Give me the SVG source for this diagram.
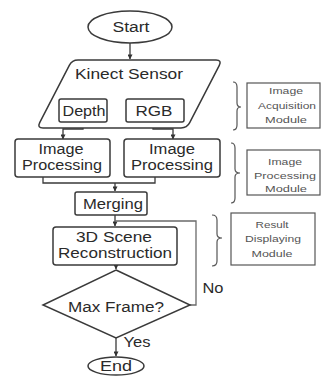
<svg xmlns="http://www.w3.org/2000/svg" width="321" height="376" viewBox="0 0 321 376">
<defs>
<marker id="arr" viewBox="0 0 6 6" refX="5.5" refY="3" markerWidth="5" markerHeight="5" orient="auto" markerUnits="userSpaceOnUse">
<path d="M0,0 L6,3 L0,6 Z" fill="#333"/>
</marker>
<style>
.sh{fill:#fff;stroke:#3a3a3a;stroke-width:1.5}
.ln{fill:none;stroke:#3a3a3a;stroke-width:1.3}
.lg{fill:none;stroke:#6a6a6a;stroke-width:1.3}
.t{font-family:"Liberation Sans",Arial,sans-serif;font-size:14px;fill:#2a2a2a;text-anchor:middle}
.s{font-family:"Liberation Sans",Arial,sans-serif;font-size:9.5px;fill:#555;text-anchor:middle}
.br{fill:none;stroke:#555;stroke-width:1.2}
</style>
</defs>
<rect width="321" height="376" fill="#fff"/>
<g id="connectors">
<path class="ln" d="M130,43 L130,59" marker-end="url(#arr)"/>
<path class="ln" d="M83,122 L83,129 L63,129 L63,139" marker-end="url(#arr)"/>
<path class="ln" d="M153,122 L153,129 L173,129 L173,139" marker-end="url(#arr)"/>
<path class="ln" d="M43,177 L43,183 L155,183 L155,177 M115,183 L115,191" marker-end="url(#arr)"/>
<path class="ln" d="M115,215 L115,226" marker-end="url(#arr)"/>
<path class="lg" d="M190,305 L196,305 L196,221 L115,221"/>
<path class="ln" d="M116,265 L116,269" marker-end="url(#arr)"/>
<path class="ln" d="M116,338 L116,356" marker-end="url(#arr)"/>
</g>
<g id="start"><ellipse class="sh" cx="130" cy="27" rx="42" ry="16"/><text class="t" x="131" y="32" textLength="37" lengthAdjust="spacingAndGlyphs">Start</text></g>
<g id="kinect"><path class="sh" d="M78,60 L216,60 Q222,60 219.3,65.3 L189.7,122.7 Q187,128 181,128 L43,128 Q37,128 39.7,122.7 L69.3,65.3 Q72,60 78,60 Z"/><text class="t" x="129" y="79" textLength="108" lengthAdjust="spacingAndGlyphs">Kinect Sensor</text></g>
<g id="depth"><rect class="sh" x="59" y="99" width="48" height="23" rx="2"/><text class="t" x="84" y="116" textLength="43" lengthAdjust="spacingAndGlyphs">Depth</text></g>
<g id="rgb"><rect class="sh" x="126" y="99" width="58" height="23" rx="2"/><text class="t" x="154" y="116" textLength="37" lengthAdjust="spacingAndGlyphs">RGB</text></g>
<g id="imgproc1"><rect class="sh" x="15" y="139" width="95" height="38" rx="3"/><text class="t" x="61" y="154" textLength="45" lengthAdjust="spacingAndGlyphs">Image</text><text class="t" x="62" y="170" textLength="80" lengthAdjust="spacingAndGlyphs">Processing</text></g>
<g id="imgproc2"><rect class="sh" x="124" y="139" width="96" height="38" rx="3"/><text class="t" x="172" y="154" textLength="46" lengthAdjust="spacingAndGlyphs">Image</text><text class="t" x="172" y="170" textLength="82" lengthAdjust="spacingAndGlyphs">Processing</text></g>
<g id="merging"><rect class="sh" x="75" y="192" width="72" height="23" rx="2"/><text class="t" x="113" y="209" textLength="60" lengthAdjust="spacingAndGlyphs">Merging</text></g>
<g id="recon"><rect class="sh" x="53" y="227" width="124" height="38" rx="3"/><text class="t" x="114" y="242" textLength="76" lengthAdjust="spacingAndGlyphs">3D Scene</text><text class="t" x="115" y="258" textLength="114" lengthAdjust="spacingAndGlyphs">Reconstruction</text></g>
<g id="maxframe"><path class="sh" d="M116,270 L190,305 L116,338 L43,305 Z"/><text class="t" x="116" y="312" textLength="96" lengthAdjust="spacingAndGlyphs">Max Frame?</text></g>
<g id="end"><ellipse class="sh" cx="116" cy="366" rx="28" ry="9"/><text class="t" x="116" y="371" textLength="32" lengthAdjust="spacingAndGlyphs">End</text></g>
<text class="t" x="213" y="293" textLength="21" lengthAdjust="spacingAndGlyphs">No</text>
<text class="t" x="137" y="347" textLength="27" lengthAdjust="spacingAndGlyphs">Yes</text>
<g id="mod1"><path class="br" d="M233,82 Q237,82 237,87 L237,103 Q237,107 241,107 Q237,107 237,111 L237,125 Q237,130 233,130"/><rect x="247" y="83" width="73" height="45" fill="#fff" stroke="#555" stroke-width="1.2"/><text class="s" x="286" y="94" textLength="34" lengthAdjust="spacingAndGlyphs">Image</text><text class="s" x="287" y="109" textLength="58" lengthAdjust="spacingAndGlyphs">Acquisition</text><text class="s" x="286" y="123" textLength="42" lengthAdjust="spacingAndGlyphs">Module</text></g>
<g id="mod2"><path class="br" d="M231,143 Q235,143 235,148 L235,169 Q235,173 240,173 Q235,173 235,177 L235,198 Q235,203 231,203"/><rect x="247" y="150" width="73" height="45" fill="#fff" stroke="#555" stroke-width="1.2"/><text class="s" x="285" y="165" textLength="34" lengthAdjust="spacingAndGlyphs">Image</text><text class="s" x="285" y="179" textLength="62" lengthAdjust="spacingAndGlyphs">Processing</text><text class="s" x="286" y="192" textLength="42" lengthAdjust="spacingAndGlyphs">Module</text></g>
<g id="mod3"><path class="br" d="M212,215 Q217,215 217,220 L217,234 Q217,238 222,238 Q217,238 217,242 L217,261 Q217,266 212,266"/><rect x="231" y="213" width="84" height="52" fill="#fff" stroke="#555" stroke-width="1.2"/><text class="s" x="272" y="228" textLength="33" lengthAdjust="spacingAndGlyphs">Result</text><text class="s" x="273" y="242" textLength="56" lengthAdjust="spacingAndGlyphs">Displaying</text><text class="s" x="272" y="257" textLength="41" lengthAdjust="spacingAndGlyphs">Module</text></g>
</svg>
